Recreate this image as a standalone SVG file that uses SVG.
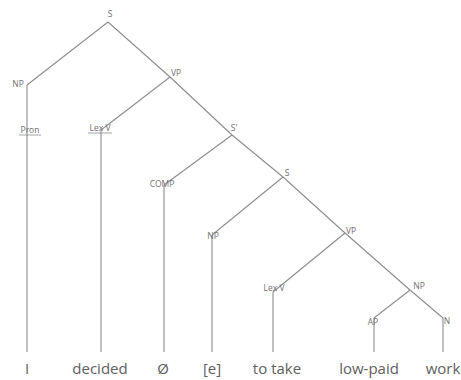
<svg xmlns="http://www.w3.org/2000/svg" width="461" height="380" viewBox="0 0 461 380">
<style>
.e{stroke:#8c8c8c;stroke-width:1.1;fill:none}
.l{font-family:"Open Sans","DejaVu Sans",sans-serif;font-size:8.5px;fill:#707070;text-anchor:middle}
.w{font-family:"Open Sans","DejaVu Sans",sans-serif;font-size:15px;fill:#606060;text-anchor:middle}
.u{stroke:#8c8c8c;stroke-width:0.8}
</style>
<rect width="461" height="380" fill="#ffffff"/>
<g id="connectors">
<path class="e" d="M108,22 L170,77 L232,135 L283,177 L345,233 L410,290 L443,318"/>
<path class="e" d="M108,22 L27,85"/>
<path class="e" d="M170,77 L101,130"/>
<path class="e" d="M232,135 L164,185"/>
<path class="e" d="M283,177 L212,235"/>
<path class="e" d="M345,233 L273,292"/>
<path class="e" d="M410,290 L374,318"/>
<path class="e" d="M27,85 V352"/>
<path class="e" d="M101,130 V352"/>
<path class="e" d="M164,185 V352"/>
<path class="e" d="M212,235 V352"/>
<path class="e" d="M273,292 V352"/>
<path class="e" d="M374,318 V352"/>
<path class="e" d="M443,318 V352"/>
</g>
<g id="n-S"><text class="l" x="110" y="17">S</text></g>
<g id="n-NP1"><text class="l" x="18" y="87">NP</text></g>
<g id="n-Pron"><text class="l" x="30" y="133">Pron</text><line class="u" x1="19" y1="135" x2="41" y2="135"/></g>
<g id="n-VP1"><text class="l" x="176" y="76">VP</text></g>
<g id="n-LexV1"><text class="l" x="100" y="131">Lex V</text><line class="u" x1="88" y1="133" x2="112" y2="133"/></g>
<g id="n-Sbar"><text class="l" x="234" y="131">S'</text></g>
<g id="n-COMP"><text class="l" x="162" y="187">COMP</text></g>
<g id="n-S2"><text class="l" x="287" y="176">S</text></g>
<g id="n-NP2"><text class="l" x="213" y="239">NP</text></g>
<g id="n-VP2"><text class="l" x="351" y="234">VP</text></g>
<g id="n-LexV2"><text class="l" x="274" y="291">Lex V</text></g>
<g id="n-NP3"><text class="l" x="419" y="289">NP</text></g>
<g id="n-AP"><text class="l" x="373" y="325">AP</text></g>
<g id="n-N"><text class="l" x="447" y="324">N</text></g>
<g id="w-I"><text class="w" x="27" y="374">I</text></g>
<g id="w-decided"><text class="w" x="100" y="374">decided</text></g>
<g id="w-zero"><text class="w" x="163" y="374">Ø</text></g>
<g id="w-e"><text class="w" x="212" y="374">[e]</text></g>
<g id="w-totake"><text class="w" x="277" y="374">to take</text></g>
<g id="w-lowpaid"><text class="w" x="369" y="374">low-paid</text></g>
<g id="w-work"><text class="w" x="443" y="374">work</text></g>
</svg>
